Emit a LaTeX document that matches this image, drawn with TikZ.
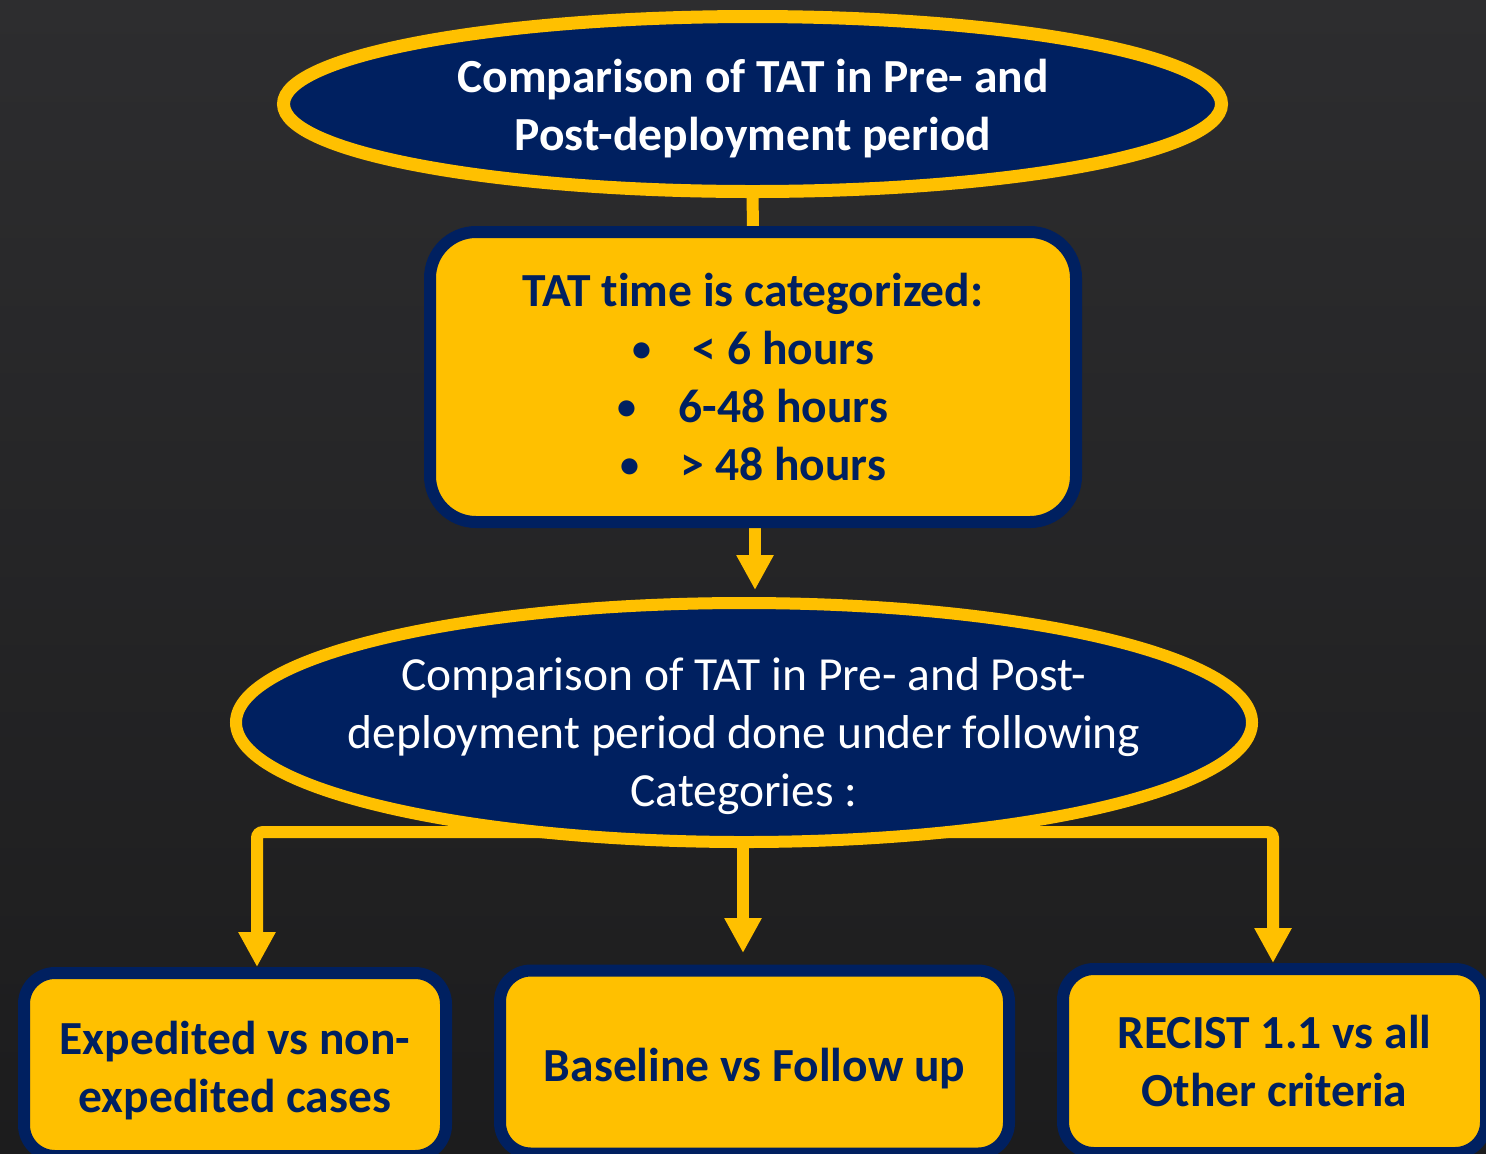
\documentclass[tikz,border=0pt]{standalone}
\usepackage{fontspec}
\setmainfont{Carlito}[RawFeature={-liga}]
\usetikzlibrary{shapes.geometric,arrows.meta,calc}
\definecolor{navy}{HTML}{002060}
\definecolor{gold}{HTML}{FFC000}
\definecolor{bgtop}{HTML}{2D2D2F}
\definecolor{bgbot}{HTML}{1C1C1D}
\pgfdeclarelayer{back}
\pgfdeclarelayer{conn}
\pgfsetlayers{back,conn,main}
\newcommand{\blt}{\raisebox{1.5pt}{\fontsize{19}{29}\selectfont\textbullet}}
\newcommand{\lowstrut}{\rule{0pt}{23pt}}
\begin{document}
\begin{tikzpicture}[x=0.5pt,y=-0.5pt,
  txt/.style={font=\fontsize{23.75}{29}\selectfont, align=center, inner sep=0pt},
  oval/.style={ellipse, draw=gold, fill=navy, line width=6.5pt, inner sep=0pt, outer sep=0pt},
  card/.style={rectangle, draw=navy, fill=gold, line width=6pt, inner sep=0pt, outer sep=0pt,
    text=navy, font=\fontsize{23.75}{29}\selectfont\bfseries, align=center},
  link/.style={draw=gold, line width=6pt},
  arr/.style={draw=gold, line width=6pt, rounded corners=3pt,
    -{Triangle[width=17.5pt,length=17.5pt]}},
]
\useasboundingbox (0,0) rectangle (1486,1153);
\clip (0,0) rectangle (1486,1153);
\begin{pgfonlayer}{back}
  \shade[top color=bgtop, bottom color=bgbot] (0,0) rectangle (1486,1153);
\end{pgfonlayer}

% shapes
\node[oval, minimum width=469pt, minimum height=87.5pt] (e1) at (752.5,104) {};
\node[txt, text=white, font=\fontsize{23.75}{29}\selectfont\bfseries] (t1) at (753,109)
  {Comparison of TAT in Pre- and\\Post-deployment period};

\node[card, rounded corners=23pt, minimum width=323pt, minimum height=145pt] (b2) at (753,377)
  {TAT time is categorized:\\
   \blt\hspace{21pt}< 6 hours\\
   \blt\hspace{21pt}6-48 hours\\
   \blt\hspace{21pt}> 48 hours};

\node[oval, line width=6pt, minimum width=508pt, minimum height=119.5pt] (e2) at (744,722.5) {};
\node[txt, text=white] (t2) at (744,736)
  {Comparison of TAT in Pre- and Post-\\deployment period done under following\\Categories :};

\node[card, rounded corners=15.5pt, minimum width=211pt, minimum height=91.5pt] (bA) at (235,1064.5)
  {\lowstrut Expedited vs non-\\expedited cases};
\node[card, rounded corners=15.5pt, minimum width=254.5pt, minimum height=91.5pt] (bB) at (754.5,1062)
  {\lowstrut Baseline vs Follow up};
\node[card, rounded corners=15.5pt, minimum width=211.5pt, minimum height=92pt] (bC) at (1274.5,1061)
  {RECIST 1.1 vs all\\Other criteria};

\coordinate (hub) at (744,832);

% connectors
\begin{pgfonlayer}{conn}
  \draw[link] (e1.south) -- (b2.north);
  \draw[arr, shorten >=6.5pt] ($(b2.south)+(2,0)$) -- ($(b2.south |- e2.north)+(2,0)$);
  \draw[arr, shorten >=8.75pt] ($(e2.south)+(-1,0)$) -- ($(e2.south |- bB.north)+(-1,0)$);
  \draw[arr, shorten >=3pt] (hub) -| ($(bA.north)+(22,0)$);
  \draw[arr, shorten >=3pt] (hub) -| ($(bC.north)+(-1.5,0)$);
\end{pgfonlayer}
\end{tikzpicture}
\end{document}
